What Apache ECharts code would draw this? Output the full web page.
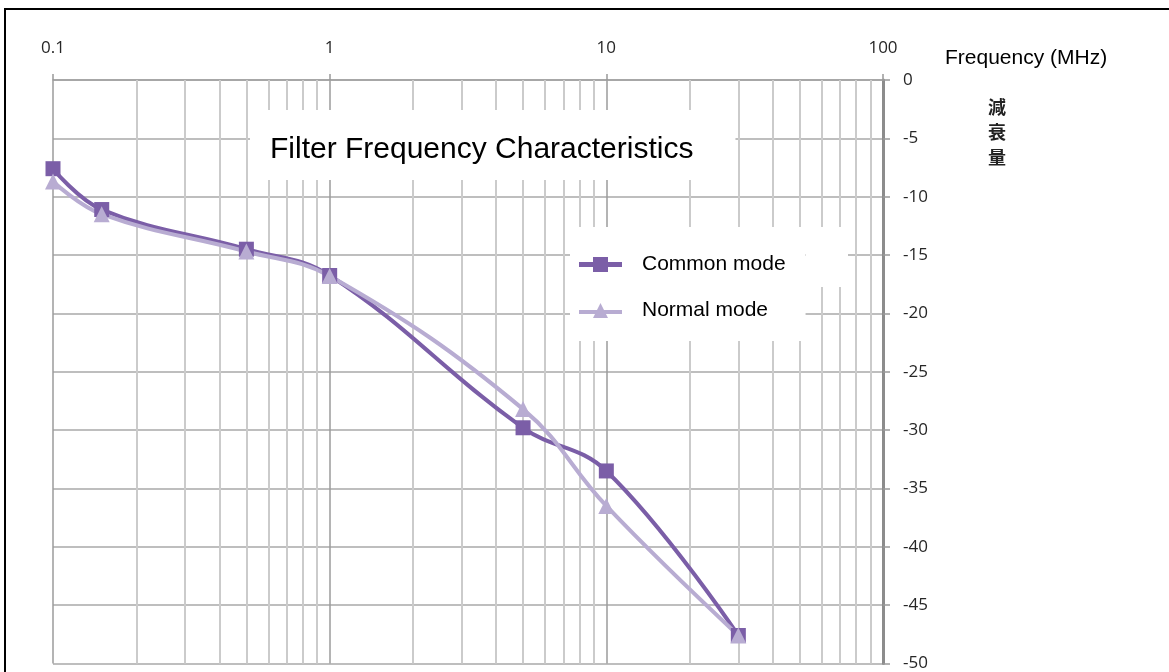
<!DOCTYPE html>
<html>
<head>
<meta charset="utf-8">
<script src="https://cdn.jsdelivr.net/npm/echarts@6/dist/echarts.min.js"></script>
<style>
html,body{margin:0;padding:0;background:#fff;}
#chart{width:1169px;height:672px;}
</style>
</head>
<body>
<div id="chart"></div>
<script>
// ---- data ----
const frequencies = [0.1, 0.15, 0.5, 1, 5, 10, 30];
const commonMode = [-7.6, -11.1, -14.5, -16.75, -29.8, -33.5, -47.6];
const normalMode = [-8.7, -11.5, -14.7, -16.8, -28.2, -36.5, -47.6];
const minorFrequencies = [0.2, 0.3, 0.4, 0.5, 0.6, 0.7, 0.8, 0.9,
                          2, 3, 4, 5, 6, 7, 8, 9,
                          20, 30, 40, 50, 60, 70, 80, 90];
const seriesNames = ['Common mode', 'Normal mode'];
const chartTitle = 'Filter Frequency Characteristics';
const xAxisName = 'Frequency (MHz)';
const yAxisName = '減\n衰\n量';

const chart = echarts.init(document.getElementById('chart'), null, {renderer: 'canvas'});

const tickFont = 'Open Sans';
const mainFont = 'Liberation Sans, Arial, sans-serif';

// legend icons: line with marker in the middle
const squareIcon = 'path://M0,5 L43,5 L43,10 L0,10 Z M14,0 L29,0 L29,15 L14,15 Z';
const triangleIcon = 'path://M0,7 L43,7 L43,11 L0,11 Z M21.5,0 L29,15 L14,15 Z';

const option = {
  animation: false,
  backgroundColor: '#fff',
  title: {
    text: chartTitle,
    left: 250,
    top: 110,
    padding: [22, 42, 12, 20],
    backgroundColor: '#fff',
    z: 6,
    textStyle: {fontFamily: mainFont, fontSize: 30, fontWeight: 'normal', color: '#000', lineHeight: 36}
  },
  legend: {
    orient: 'vertical',
    left: 570,
    top: 227,
    padding: [27, 20, 20, 9],
    itemGap: 25,
    itemWidth: 43,
    itemHeight: 15,
    backgroundColor: '#fff',
    z: 4,
    data: [
      {name: seriesNames[0], icon: squareIcon},
      {name: seriesNames[1], icon: triangleIcon}
    ],
    textStyle: {fontFamily: mainFont, fontSize: 21, color: '#000', padding: [0, 0, 0, 15]}
  },
  grid: {left: 53, right: 286, top: 80, bottom: 7, containLabel: false},
  xAxis: {
    type: 'log',
    logBase: 10,
    min: 0.1,
    max: 100,
    position: 'top',
    splitNumber: 3,
    axisLine: {show: true, lineStyle: {color: '#a0a0a0', width: 1.5}},
    axisTick: {show: true, length: 6, lineStyle: {color: '#999', width: 1.5}},
    axisLabel: {
      show: true, margin: 23, fontFamily: tickFont, fontSize: 17, color: '#262626',
      formatter: v => String(+Number(v).toPrecision(3))
    },
    splitLine: {show: true, lineStyle: {color: '#9b9b9b', width: 1.5}}
  },
  yAxis: {
    type: 'value',
    position: 'right',
    min: -50,
    max: 0,
    interval: 5,
    axisLine: {show: true, onZero: false, lineStyle: {color: '#8c8c8c', width: 3}},
    axisTick: {show: true, length: 7, lineStyle: {color: '#999', width: 1.5}},
    axisLabel: {show: true, margin: 20, align: 'left', fontFamily: tickFont, fontSize: 17, color: '#262626'},
    splitLine: {show: true, lineStyle: {color: '#a8a8a8', width: 1.5}}
  },
  graphic: [
    {type: 'rect', z: 100, silent: true, shape: {x: 5, y: 9, width: 1300, height: 800},
     style: {fill: 'none', stroke: '#000', lineWidth: 2}},
    {type: 'rect', z: 2, silent: true, shape: {x: 806, y: 227, width: 42, height: 60},
     style: {fill: '#fff'}},
    {type: 'text', z: 10, left: 945, top: 48,
     style: {text: xAxisName, fontFamily: mainFont, fontSize: 21, fill: '#000'}},
    {type: 'text', z: 10, left: 988, top: 95,
     style: {text: yAxisName, fontFamily: 'Noto Sans CJK JP', fontSize: 18, lineHeight: 25, fontWeight: 'bold', fill: '#222', align: 'center'}}
  ],
  series: [
    {
      name: 'minor-grid',
      type: 'line',
      data: [],
      silent: true,
      z: 1,
      markLine: {
        silent: true,
        z: 1,
        symbol: ['none', 'none'],
        label: {show: false},
        lineStyle: {type: 'solid', color: '#cbcbcb', width: 2},
        emphasis: {disabled: true},
        data: minorFrequencies.map(f => ({xAxis: f}))
      }
    },
    {
      name: seriesNames[0],
      type: 'line',
      z: 3,
      smooth: 0.4,
      symbol: 'rect',
      symbolSize: 15,
      color: '#7b5ea7',
      itemStyle: {color: '#7b5ea7'},
      lineStyle: {color: '#7b5ea7', width: 4},
      data: frequencies.map((f, i) => [f, commonMode[i]])
    },
    {
      name: seriesNames[1],
      type: 'line',
      z: 3,
      smooth: 0.4,
      symbol: 'triangle',
      symbolSize: 16,
      color: '#b8acd2',
      itemStyle: {color: '#b8acd2'},
      lineStyle: {color: '#b8acd2', width: 4},
      data: frequencies.map((f, i) => [f, normalMode[i]])
    }
  ]
};
chart.setOption(option);
</script>
</body>
</html>
